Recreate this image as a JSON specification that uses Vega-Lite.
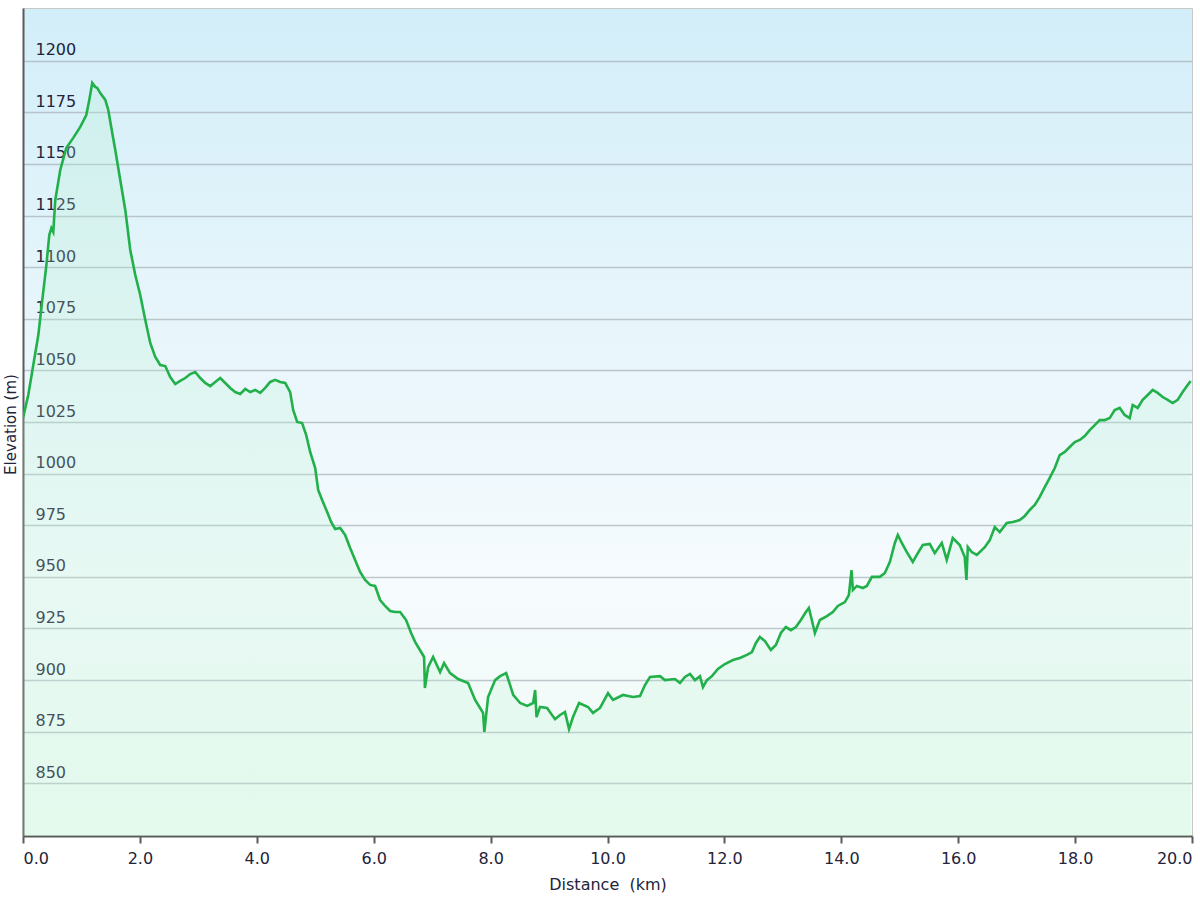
{
  "$schema": "https://vega.github.io/schema/vega-lite/v6.json",
  "width": 1169,
  "height": 828,
  "autosize": {"type": "none"},
  "padding": {"left": 23, "top": 8, "right": 8, "bottom": 64},
  "background": "#ffffff",
  "view": {
    "fill": {"gradient": "linear", "x1": 0, "y1": 0, "x2": 0, "y2": 1,
      "stops": [
        {"offset": 0, "color": "#d2eef9"},
        {"offset": 0.35, "color": "#e6f5fb"},
        {"offset": 0.7, "color": "#f6fbfe"},
        {"offset": 1, "color": "#effcf4"}
      ]},
    "stroke": "#c8c8c8",
    "strokeWidth": 1
  },
  "data": {"values": [
    {"d":0.00,"e":1026.9},{"d":0.09,"e":1038.1},{"d":0.176,"e":1052.6},{"d":0.262,"e":1067.1},{"d":0.33,"e":1084.1},
    {"d":0.40,"e":1101.0},{"d":0.45,"e":1115.6},{"d":0.485,"e":1118.9},{"d":0.518,"e":1117.0},{"d":0.552,"e":1132.5},
    {"d":0.638,"e":1147.1},{"d":0.74,"e":1157.7},{"d":0.86,"e":1162.6},{"d":0.98,"e":1167.9},{"d":1.083,"e":1173.7},
    {"d":1.134,"e":1181.0},{"d":1.185,"e":1189.2},{"d":1.236,"e":1187.3},{"d":1.27,"e":1186.8},{"d":1.322,"e":1184.3},
    {"d":1.408,"e":1181.0},{"d":1.459,"e":1176.1},{"d":1.527,"e":1165.0},{"d":1.579,"e":1156.7},{"d":1.664,"e":1142.2},
    {"d":1.750,"e":1127.7},{"d":1.835,"e":1108.3},{"d":1.921,"e":1096.2},{"d":2.006,"e":1086.5},{"d":2.092,"e":1074.4},
    {"d":2.177,"e":1063.3},{"d":2.263,"e":1056.5},{"d":2.348,"e":1052.6},{"d":2.434,"e":1052.1},{"d":2.519,"e":1046.8},
    {"d":2.605,"e":1043.4},{"d":2.690,"e":1044.9},{"d":2.776,"e":1046.3},{"d":2.861,"e":1048.2},{"d":2.947,"e":1049.2},
    {"d":3.032,"e":1046.3},{"d":3.118,"e":1043.9},{"d":3.203,"e":1042.4},{"d":3.289,"e":1044.4},{"d":3.374,"e":1046.3},
    {"d":3.460,"e":1043.9},{"d":3.545,"e":1041.5},{"d":3.631,"e":1039.5},{"d":3.716,"e":1038.6},{"d":3.802,"e":1041.0},
    {"d":3.887,"e":1039.5},{"d":3.973,"e":1040.5},{"d":4.058,"e":1039.1},{"d":4.144,"e":1041.5},{"d":4.229,"e":1044.4},
    {"d":4.315,"e":1045.4},{"d":4.400,"e":1044.4},{"d":4.486,"e":1043.9},{"d":4.571,"e":1039.5},{"d":4.622,"e":1030.8},
    {"d":4.691,"e":1025.0},{"d":4.776,"e":1024.5},{"d":4.845,"e":1018.7},{"d":4.913,"e":1010.5},{"d":4.999,"e":1002.7},
    {"d":5.050,"e":992.1},{"d":5.118,"e":987.2},{"d":5.204,"e":981.4},{"d":5.272,"e":976.6},{"d":5.340,"e":973.2},
    {"d":5.426,"e":973.7},{"d":5.511,"e":970.3},{"d":5.597,"e":964.0},{"d":5.682,"e":958.2},{"d":5.768,"e":952.4},
    {"d":5.853,"e":948.5},{"d":5.939,"e":946.1},{"d":6.024,"e":945.6},{"d":6.110,"e":938.8},{"d":6.195,"e":935.9},
    {"d":6.281,"e":933.5},{"d":6.366,"e":933.0},{"d":6.452,"e":933.0},{"d":6.554,"e":929.1},{"d":6.640,"e":922.8},
    {"d":6.708,"e":918.5},{"d":6.811,"e":913.6},{"d":6.862,"e":911.2},{"d":6.876,"e":896.2},{"d":6.931,"e":906.3},
    {"d":7.016,"e":911.2},{"d":7.136,"e":903.9},{"d":7.204,"e":908.3},{"d":7.307,"e":903.4},{"d":7.444,"e":900.5},
    {"d":7.615,"e":898.6},{"d":7.735,"e":890.4},{"d":7.820,"e":886.5},{"d":7.871,"e":884.1},{"d":7.893,"e":874.9},
    {"d":7.957,"e":891.8},{"d":8.077,"e":900.0},{"d":8.163,"e":901.9},{"d":8.266,"e":903.4},{"d":8.334,"e":897.6},
    {"d":8.386,"e":892.8},{"d":8.505,"e":888.9},{"d":8.625,"e":887.5},{"d":8.728,"e":888.9},{"d":8.762,"e":895.2},
    {"d":8.786,"e":882.1},{"d":8.846,"e":887.0},{"d":8.966,"e":886.5},{"d":9.102,"e":881.1},{"d":9.188,"e":883.1},
    {"d":9.273,"e":884.5},{"d":9.342,"e":876.3},{"d":9.410,"e":882.1},{"d":9.513,"e":888.9},{"d":9.667,"e":887.0},
    {"d":9.752,"e":884.1},{"d":9.872,"e":886.5},{"d":10.009,"e":893.7},{"d":10.094,"e":890.4},{"d":10.265,"e":892.8},
    {"d":10.436,"e":891.8},{"d":10.556,"e":892.3},{"d":10.641,"e":897.6},{"d":10.727,"e":901.5},{"d":10.898,"e":901.9},
    {"d":10.983,"e":900.0},{"d":11.154,"e":900.5},{"d":11.240,"e":898.6},{"d":11.325,"e":901.5},{"d":11.411,"e":903.0},
    {"d":11.496,"e":900.0},{"d":11.582,"e":901.9},{"d":11.633,"e":896.6},{"d":11.701,"e":900.0},{"d":11.787,"e":901.9},
    {"d":11.889,"e":905.4},{"d":12.009,"e":907.8},{"d":12.146,"e":909.7},{"d":12.265,"e":910.7},{"d":12.385,"e":912.2},
    {"d":12.471,"e":913.6},{"d":12.539,"e":918.0},{"d":12.607,"e":920.9},{"d":12.693,"e":918.9},{"d":12.795,"e":914.6},
    {"d":12.881,"e":917.0},{"d":12.966,"e":922.8},{"d":13.052,"e":925.7},{"d":13.137,"e":924.2},{"d":13.223,"e":925.7},
    {"d":13.308,"e":929.1},{"d":13.394,"e":933.0},{"d":13.445,"e":934.9},{"d":13.496,"e":929.1},{"d":13.548,"e":922.8},
    {"d":13.633,"e":929.1},{"d":13.753,"e":931.0},{"d":13.855,"e":933.0},{"d":13.941,"e":935.9},{"d":14.061,"e":937.8},
    {"d":14.129,"e":941.2},{"d":14.175,"e":953.3},{"d":14.198,"e":943.6},{"d":14.266,"e":945.6},{"d":14.369,"e":944.6},
    {"d":14.437,"e":945.6},{"d":14.523,"e":950.0},{"d":14.659,"e":950.0},{"d":14.745,"e":951.9},{"d":14.830,"e":957.2},
    {"d":14.916,"e":966.4},{"d":14.967,"e":970.3},{"d":15.035,"e":966.4},{"d":15.121,"e":962.0},{"d":15.223,"e":957.2},
    {"d":15.309,"e":961.5},{"d":15.394,"e":965.4},{"d":15.514,"e":965.9},{"d":15.599,"e":961.5},{"d":15.719,"e":966.4},
    {"d":15.804,"e":958.2},{"d":15.907,"e":968.8},{"d":16.027,"e":965.4},{"d":16.112,"e":959.6},{"d":16.141,"e":948.5},
    {"d":16.164,"e":964.4},{"d":16.232,"e":962.0},{"d":16.318,"e":960.6},{"d":16.455,"e":964.4},{"d":16.540,"e":967.8},
    {"d":16.626,"e":974.1},{"d":16.711,"e":971.7},{"d":16.831,"e":976.1},{"d":16.934,"e":976.6},{"d":17.053,"e":977.5},
    {"d":17.139,"e":979.5},{"d":17.224,"e":982.4},{"d":17.310,"e":984.8},{"d":17.395,"e":988.7},{"d":17.481,"e":993.5},
    {"d":17.566,"e":997.9},{"d":17.652,"e":1002.7},{"d":17.737,"e":1009.0},{"d":17.823,"e":1010.5},{"d":17.908,"e":1012.9},
    {"d":17.994,"e":1015.3},{"d":18.079,"e":1016.3},{"d":18.165,"e":1018.2},{"d":18.250,"e":1021.1},{"d":18.336,"e":1023.5},
    {"d":18.421,"e":1025.9},{"d":18.506,"e":1025.9},{"d":18.592,"e":1026.9},{"d":18.677,"e":1030.8},{"d":18.763,"e":1031.8},
    {"d":18.848,"e":1028.4},{"d":18.934,"e":1026.9},{"d":18.985,"e":1033.2},{"d":19.071,"e":1031.8},{"d":19.156,"e":1035.7},
    {"d":19.242,"e":1038.1},{"d":19.327,"e":1040.5},{"d":19.413,"e":1039.1},{"d":19.498,"e":1037.1},{"d":19.584,"e":1035.7},
    {"d":19.669,"e":1034.2},{"d":19.755,"e":1035.7},{"d":19.840,"e":1039.5},{"d":19.926,"e":1042.9},{"d":19.977,"e":1044.9}
  ]},
  "mark": {
    "type": "area",
    "clip": true,
    "interpolate": "linear",
    "color": {"gradient": "linear", "x1": 0, "y1": 0, "x2": 0, "y2": 1,
      "stops": [
        {"offset": 0, "color": "rgba(180,240,205,0.35)"},
        {"offset": 1, "color": "rgba(200,245,220,0.25)"}
      ]},
    "line": {"color": "#22b04b", "strokeWidth": 2.6}
  },
  "encoding": {
    "x": {
      "field": "d", "type": "quantitative",
      "scale": {"domain": [0, 20], "nice": false, "zero": false},
      "axis": {
        "title": "Distance\u00a0 (km)",
        "values": [0, 2, 4, 6, 8, 10, 12, 14, 16, 18, 20],
        "format": ".1f",
        "grid": false,
        "domainColor": "#5a5a5a", "domainWidth": 2,
        "tickColor": "#5a5a5a", "tickWidth": 2, "tickSize": 7,
        "labelFont": "Verdana, DejaVu Sans", "labelFontSize": 16, "labelColor": "#23233a",
        "labelPadding": 7, "labelFlush": true,
        "titleFont": "Verdana, DejaVu Sans", "titleFontSize": 16, "titleFontWeight": "normal", "titleColor": "#23233a",
        "titlePadding": 10
      }
    },
    "y": {
      "field": "e", "type": "quantitative",
      "scale": {"domain": [824.5, 1225.5], "nice": false, "zero": false},
      "axis": {
        "title": "Elevation (m)",
        "values": [850, 875, 900, 925, 950, 975, 1000, 1025, 1050, 1075, 1100, 1125, 1150, 1175, 1200],
        "format": "d",
        "grid": true, "gridColor": "#a9b6bb", "gridWidth": 1.6, "gridOpacity": 0.75,
        "ticks": false, "tickSize": 0,
        "domainColor": "#5a5a5a", "domainWidth": 2,
        "labelFont": "Verdana, DejaVu Sans", "labelFontSize": 16, "labelColor": "#23233a",
        "labelAlign": "left", "labelBaseline": "alphabetic", "labelPadding": -12, "labelOffset": -6,
        "titleFont": "Verdana, DejaVu Sans", "titleFontSize": 15, "titleFontWeight": "normal", "titleColor": "#23233a",
        "titleX": -13, "titleY": 416, "titleAngle": -90, "titleAlign": "center", "titleBaseline": "middle"
      }
    }
  }
}
